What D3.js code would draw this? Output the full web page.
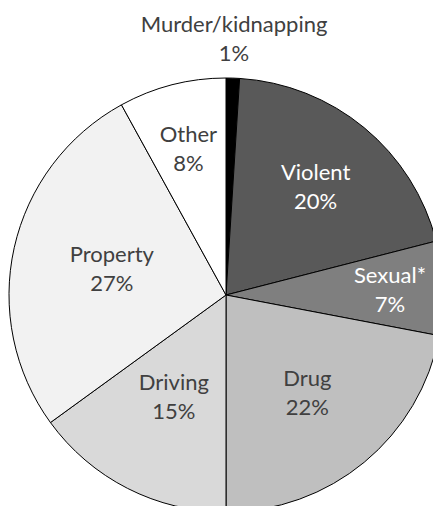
<!DOCTYPE html>
<html>
<head>
<meta charset="utf-8">
<script src="https://cdn.jsdelivr.net/npm/d3@7/dist/d3.min.js"></script>
<style>
  html, body { margin: 0; padding: 0; background: #fff; }
  svg { display: block; }
  text { font-family: Lato, "Open Sans", sans-serif; }
</style>
</head>
<body>
<svg id="chart" width="433" height="506"></svg>
<script>
// Data
const categories = ["Murder/kidnapping", "Violent", "Sexual*", "Drug", "Driving", "Property", "Other"];
const shares = [1, 20, 7, 22, 15, 27, 8];
const percentLabels = ["1%", "20%", "7%", "22%", "15%", "27%", "8%"];

// Styling / layout (not data)
const fills = ["#000000", "#595959", "#7f7f7f", "#bfbfbf", "#d9d9d9", "#f2f2f2", "#ffffff"];
const textColors = ["#404040", "#ffffff", "#ffffff", "#404040", "#404040", "#404040", "#404040"];
const labelRadiusFactor = [1.18, 0.648, 0.756, 0.588, 0.529, 0.539, 0.696];

const W = 433, H = 506;
const cx = 226, cy = 295, R = 217;
const fontSize = 22, lineGap = 29;

const svg = d3.select("#chart");
const g = svg.append("g").attr("transform", `translate(${cx},${cy})`);

const pie = d3.pie().sort(null).value(d => d.v);
const data = categories.map((c, i) => ({ c, v: shares[i], p: percentLabels[i], i }));
const arcs = pie(data);
const arc = d3.arc().innerRadius(0).outerRadius(R);

g.selectAll("path.slice")
  .data(arcs)
  .join("path")
  .attr("class", "slice")
  .attr("d", arc)
  .attr("fill", d => fills[d.data.i])
  .attr("stroke", "#000")
  .attr("stroke-width", 1);

const labels = g.selectAll("g.lbl")
  .data(arcs)
  .join("g")
  .attr("class", "lbl")
  .attr("transform", d => {
    const r = R * labelRadiusFactor[d.data.i];
    const la = d3.arc().innerRadius(r).outerRadius(r);
    const [x, y] = la.centroid(d);
    return `translate(${x},${y})`;
  });

labels.append("text")
  .attr("text-anchor", "middle")
  .attr("y", -lineGap / 2 + 7.5)
  .attr("font-size", fontSize)
  .attr("fill", d => textColors[d.data.i])
  .text(d => d.data.c);

labels.append("text")
  .attr("text-anchor", "middle")
  .attr("y", lineGap / 2 + 7.5)
  .attr("font-size", fontSize)
  .attr("fill", d => textColors[d.data.i])
  .text(d => d.data.p);
</script>
</body>
</html>
